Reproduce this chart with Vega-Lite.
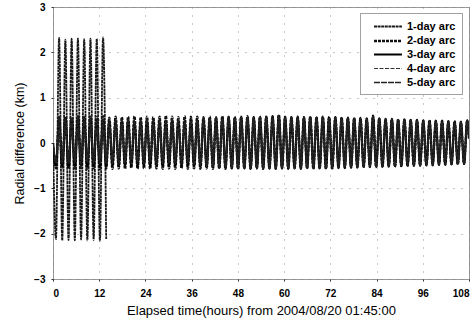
{
"$schema":"https://vega.github.io/schema/vega-lite/v6.json",
"autosize":"none",
"width":416,"height":272,
"padding":{"left":53,"top":7,"right":5,"bottom":48},
"background":"white",
"data":{"values":[
{"t":0,"1-day arc":0,"2-day arc":0,"3-day arc":0,"4-day arc":0,"5-day arc":0},
{"t":0.77,"1-day arc":-2.12,"2-day arc":-0.56,"3-day arc":-0.5,"4-day arc":-0.32,"5-day arc":-0.45},
{"t":1.58,"1-day arc":2.32,"2-day arc":0.57,"3-day arc":0.47,"4-day arc":0.3,"5-day arc":0.52},
{"t":2.4,"1-day arc":-2.15,"2-day arc":-0.55,"3-day arc":-0.49,"4-day arc":-0.34,"5-day arc":-0.44},
{"t":3.21,"1-day arc":2.28,"2-day arc":0.58,"3-day arc":0.48,"4-day arc":0.31,"5-day arc":0.51},
{"t":4.03,"1-day arc":-2.14,"2-day arc":-0.57,"3-day arc":-0.51,"4-day arc":-0.33,"5-day arc":-0.46},
{"t":4.84,"1-day arc":2.3,"2-day arc":0.56,"3-day arc":0.46,"4-day arc":0.29,"5-day arc":0.53},
{"t":5.66,"1-day arc":-2.15,"2-day arc":-0.56,"3-day arc":-0.5,"4-day arc":-0.35,"5-day arc":-0.45},
{"t":6.47,"1-day arc":2.31,"2-day arc":0.59,"3-day arc":0.49,"4-day arc":0.32,"5-day arc":0.52},
{"t":7.29,"1-day arc":-2.13,"2-day arc":-0.55,"3-day arc":-0.48,"4-day arc":-0.33,"5-day arc":-0.47},
{"t":8.1,"1-day arc":2.29,"2-day arc":0.57,"3-day arc":0.47,"4-day arc":0.3,"5-day arc":0.5},
{"t":8.92,"1-day arc":-2.15,"2-day arc":-0.57,"3-day arc":-0.5,"4-day arc":-0.34,"5-day arc":-0.44},
{"t":9.73,"1-day arc":2.3,"2-day arc":0.58,"3-day arc":0.48,"4-day arc":0.31,"5-day arc":0.53},
{"t":10.55,"1-day arc":-2.14,"2-day arc":-0.56,"3-day arc":-0.49,"4-day arc":-0.32,"5-day arc":-0.46},
{"t":11.36,"1-day arc":2.3,"2-day arc":0.57,"3-day arc":0.46,"4-day arc":0.3,"5-day arc":0.51},
{"t":12.18,"1-day arc":-2.16,"2-day arc":-0.58,"3-day arc":-0.51,"4-day arc":-0.35,"5-day arc":-0.45},
{"t":12.99,"1-day arc":2.33,"2-day arc":0.59,"3-day arc":0.48,"4-day arc":0.32,"5-day arc":0.52},
{"t":13.81,"1-day arc":-2.12,"2-day arc":-0.56,"3-day arc":-0.5,"4-day arc":-0.33,"5-day arc":-0.46},
{"t":14.62,"2-day arc":0.56,"3-day arc":0.47,"4-day arc":0.31,"5-day arc":0.5},
{"t":15.44,"2-day arc":-0.57,"3-day arc":-0.49,"4-day arc":-0.34,"5-day arc":-0.45},
{"t":16.25,"2-day arc":0.58,"3-day arc":0.48,"4-day arc":0.3,"5-day arc":0.52},
{"t":17.07,"2-day arc":-0.56,"3-day arc":-0.5,"4-day arc":-0.33,"5-day arc":-0.47},
{"t":17.88,"2-day arc":0.57,"3-day arc":0.46,"4-day arc":0.32,"5-day arc":0.51},
{"t":18.7,"2-day arc":-0.57,"3-day arc":-0.49,"4-day arc":-0.34,"5-day arc":-0.44},
{"t":19.51,"2-day arc":0.58,"3-day arc":0.49,"4-day arc":0.31,"5-day arc":0.53},
{"t":20.33,"2-day arc":-0.55,"3-day arc":-0.5,"4-day arc":-0.32,"5-day arc":-0.46},
{"t":21.14,"2-day arc":0.59,"3-day arc":0.47,"4-day arc":0.3,"5-day arc":0.52},
{"t":21.96,"2-day arc":-0.57,"3-day arc":-0.51,"4-day arc":-0.35,"5-day arc":-0.45},
{"t":22.77,"2-day arc":0.57,"3-day arc":0.48,"4-day arc":0.31,"5-day arc":0.5},
{"t":23.59,"2-day arc":-0.56,"3-day arc":-0.49,"4-day arc":-0.33,"5-day arc":-0.46},
{"t":24.4,"2-day arc":0.58,"3-day arc":0.47,"4-day arc":0.32,"5-day arc":0.53},
{"t":25.22,"2-day arc":-0.57,"3-day arc":-0.5,"4-day arc":-0.34,"5-day arc":-0.44},
{"t":26.03,"2-day arc":0.57,"3-day arc":0.48,"4-day arc":0.3,"5-day arc":0.51},
{"t":26.85,"2-day arc":-0.56,"3-day arc":-0.49,"4-day arc":-0.33,"5-day arc":-0.47},
{"t":27.66,"2-day arc":0.58,"3-day arc":0.46,"4-day arc":0.31,"5-day arc":0.52},
{"t":28.48,"2-day arc":-0.57,"3-day arc":-0.51,"4-day arc":-0.35,"5-day arc":-0.45},
{"t":29.29,"2-day arc":0.6,"3-day arc":0.48,"4-day arc":0.32,"5-day arc":0.5},
{"t":30.11,"2-day arc":-0.56,"3-day arc":-0.5,"4-day arc":-0.33,"5-day arc":-0.46},
{"t":30.92,"2-day arc":0.58,"3-day arc":0.47,"4-day arc":0.3,"5-day arc":0.53},
{"t":31.74,"2-day arc":-0.57,"3-day arc":-0.49,"4-day arc":-0.34,"5-day arc":-0.45},
{"t":32.55,"2-day arc":0.57,"3-day arc":0.48,"4-day arc":0.31,"5-day arc":0.51},
{"t":33.37,"2-day arc":-0.56,"3-day arc":-0.5,"4-day arc":-0.32,"5-day arc":-0.46},
{"t":34.18,"2-day arc":0.59,"3-day arc":0.47,"4-day arc":0.32,"5-day arc":0.52},
{"t":35.0,"2-day arc":-0.57,"3-day arc":-0.49,"4-day arc":-0.34,"5-day arc":-0.44},
{"t":35.81,"2-day arc":0.58,"3-day arc":0.48,"4-day arc":0.31,"5-day arc":0.5},
{"t":36.63,"2-day arc":-0.56,"3-day arc":-0.5,"4-day arc":-0.33,"5-day arc":-0.47},
{"t":37.44,"2-day arc":0.58,"3-day arc":0.5,"4-day arc":0.45,"5-day arc":0.53},
{"t":38.26,"2-day arc":-0.57,"3-day arc":-0.52,"4-day arc":-0.48,"5-day arc":-0.5},
{"t":39.07,"2-day arc":0.57,"3-day arc":0.53,"4-day arc":0.5,"5-day arc":0.55},
{"t":39.89,"2-day arc":-0.56,"3-day arc":-0.53,"4-day arc":-0.5,"5-day arc":-0.52},
{"t":40.7,"2-day arc":0.58,"3-day arc":0.54,"4-day arc":0.52,"5-day arc":0.55},
{"t":41.52,"2-day arc":-0.57,"3-day arc":-0.54,"4-day arc":-0.52,"5-day arc":-0.53},
{"t":42.33,"2-day arc":0.57,"3-day arc":0.55,"4-day arc":0.53,"5-day arc":0.56},
{"t":43.15,"2-day arc":-0.56,"3-day arc":-0.55,"4-day arc":-0.53,"5-day arc":-0.54},
{"t":43.96,"2-day arc":0.59,"3-day arc":0.56,"4-day arc":0.54,"5-day arc":0.57},
{"t":44.78,"2-day arc":-0.57,"3-day arc":-0.55,"4-day arc":-0.54,"5-day arc":-0.55},
{"t":45.59,"2-day arc":0.58,"3-day arc":0.56,"4-day arc":0.55,"5-day arc":0.57},
{"t":46.41,"2-day arc":-0.56,"3-day arc":-0.55,"4-day arc":-0.54,"5-day arc":-0.55},
{"t":47.22,"2-day arc":0.57,"3-day arc":0.56,"4-day arc":0.55,"5-day arc":0.56},
{"t":48.04,"2-day arc":-0.57,"3-day arc":-0.56,"4-day arc":-0.55,"5-day arc":-0.56},
{"t":48.85,"2-day arc":0.58,"3-day arc":0.57,"4-day arc":0.56,"5-day arc":0.57},
{"t":49.67,"2-day arc":-0.56,"3-day arc":-0.56,"4-day arc":-0.55,"5-day arc":-0.55},
{"t":50.48,"2-day arc":0.59,"3-day arc":0.57,"4-day arc":0.56,"5-day arc":0.58},
{"t":51.3,"2-day arc":-0.57,"3-day arc":-0.56,"4-day arc":-0.55,"5-day arc":-0.56},
{"t":52.11,"2-day arc":0.57,"3-day arc":0.56,"4-day arc":0.55,"5-day arc":0.57},
{"t":52.93,"2-day arc":-0.56,"3-day arc":-0.55,"4-day arc":-0.55,"5-day arc":-0.56},
{"t":53.74,"2-day arc":0.58,"3-day arc":0.57,"4-day arc":0.56,"5-day arc":0.57},
{"t":54.56,"2-day arc":-0.57,"3-day arc":-0.56,"4-day arc":-0.55,"5-day arc":-0.55},
{"t":55.37,"2-day arc":0.58,"3-day arc":0.57,"4-day arc":0.56,"5-day arc":0.58},
{"t":56.19,"2-day arc":-0.56,"3-day arc":-0.56,"4-day arc":-0.55,"5-day arc":-0.56},
{"t":57.0,"2-day arc":0.59,"3-day arc":0.58,"4-day arc":0.57,"5-day arc":0.58},
{"t":57.82,"2-day arc":-0.57,"3-day arc":-0.56,"4-day arc":-0.56,"5-day arc":-0.55},
{"t":58.63,"2-day arc":0.62,"3-day arc":0.6,"4-day arc":0.59,"5-day arc":0.61},
{"t":59.45,"2-day arc":-0.56,"3-day arc":-0.56,"4-day arc":-0.55,"5-day arc":-0.56},
{"t":60.26,"2-day arc":0.58,"3-day arc":0.57,"4-day arc":0.56,"5-day arc":0.57},
{"t":61.08,"2-day arc":-0.57,"3-day arc":-0.56,"4-day arc":-0.55,"5-day arc":-0.55},
{"t":61.89,"2-day arc":0.57,"3-day arc":0.56,"4-day arc":0.55,"5-day arc":0.57},
{"t":62.71,"2-day arc":-0.56,"3-day arc":-0.55,"4-day arc":-0.55,"5-day arc":-0.56},
{"t":63.52,"2-day arc":0.58,"3-day arc":0.57,"4-day arc":0.56,"5-day arc":0.57},
{"t":64.34,"2-day arc":-0.57,"3-day arc":-0.56,"4-day arc":-0.55,"5-day arc":-0.55},
{"t":65.15,"2-day arc":0.57,"3-day arc":0.56,"4-day arc":0.56,"5-day arc":0.57},
{"t":65.97,"2-day arc":-0.56,"3-day arc":-0.55,"4-day arc":-0.55,"5-day arc":-0.56},
{"t":66.78,"2-day arc":0.58,"3-day arc":0.57,"4-day arc":0.56,"5-day arc":0.58},
{"t":67.6,"2-day arc":-0.57,"3-day arc":-0.56,"4-day arc":-0.55,"5-day arc":-0.55},
{"t":68.41,"2-day arc":0.57,"3-day arc":0.56,"4-day arc":0.55,"5-day arc":0.57},
{"t":69.23,"2-day arc":-0.56,"3-day arc":-0.56,"4-day arc":-0.55,"5-day arc":-0.56},
{"t":70.04,"2-day arc":0.58,"3-day arc":0.57,"4-day arc":0.56,"5-day arc":0.57},
{"t":70.86,"2-day arc":-0.57,"3-day arc":-0.56,"4-day arc":-0.55,"5-day arc":-0.55},
{"t":71.67,"2-day arc":0.57,"3-day arc":0.56,"4-day arc":0.55,"5-day arc":0.56},
{"t":72.49,"2-day arc":-0.56,"3-day arc":-0.55,"4-day arc":-0.54,"5-day arc":-0.55},
{"t":73.3,"2-day arc":0.57,"3-day arc":0.56,"4-day arc":0.55,"5-day arc":0.56},
{"t":74.12,"2-day arc":-0.55,"3-day arc":-0.54,"4-day arc":-0.54,"5-day arc":-0.55},
{"t":74.93,"2-day arc":0.56,"3-day arc":0.55,"4-day arc":0.54,"5-day arc":0.56},
{"t":75.75,"2-day arc":-0.55,"3-day arc":-0.54,"4-day arc":-0.53,"5-day arc":-0.54},
{"t":76.56,"2-day arc":0.56,"3-day arc":0.55,"4-day arc":0.54,"5-day arc":0.55},
{"t":77.38,"2-day arc":-0.54,"3-day arc":-0.54,"4-day arc":-0.53,"5-day arc":-0.54},
{"t":78.19,"2-day arc":0.55,"3-day arc":0.54,"4-day arc":0.53,"5-day arc":0.55},
{"t":79.01,"2-day arc":-0.54,"3-day arc":-0.53,"4-day arc":-0.53,"5-day arc":-0.54},
{"t":79.82,"2-day arc":0.55,"3-day arc":0.54,"4-day arc":0.53,"5-day arc":0.54},
{"t":80.64,"2-day arc":-0.53,"3-day arc":-0.53,"4-day arc":-0.52,"5-day arc":-0.53},
{"t":81.45,"2-day arc":0.54,"3-day arc":0.53,"4-day arc":0.53,"5-day arc":0.54},
{"t":82.27,"2-day arc":-0.53,"3-day arc":-0.52,"4-day arc":-0.52,"5-day arc":-0.53},
{"t":83.08,"2-day arc":0.6,"3-day arc":0.57,"4-day arc":0.55,"5-day arc":0.58},
{"t":83.9,"2-day arc":-0.53,"3-day arc":-0.52,"4-day arc":-0.52,"5-day arc":-0.53},
{"t":84.71,"2-day arc":0.54,"3-day arc":0.53,"4-day arc":0.52,"5-day arc":0.53},
{"t":85.53,"2-day arc":-0.52,"3-day arc":-0.52,"4-day arc":-0.51,"5-day arc":-0.52},
{"t":86.34,"2-day arc":0.53,"3-day arc":0.52,"4-day arc":0.52,"5-day arc":0.53},
{"t":87.16,"2-day arc":-0.52,"3-day arc":-0.51,"4-day arc":-0.51,"5-day arc":-0.52},
{"t":87.97,"2-day arc":0.53,"3-day arc":0.52,"4-day arc":0.51,"5-day arc":0.53},
{"t":88.79,"2-day arc":-0.52,"3-day arc":-0.51,"4-day arc":-0.5,"5-day arc":-0.51},
{"t":89.6,"2-day arc":0.52,"3-day arc":0.51,"4-day arc":0.51,"5-day arc":0.52},
{"t":90.42,"2-day arc":-0.51,"3-day arc":-0.51,"4-day arc":-0.5,"5-day arc":-0.51},
{"t":91.23,"2-day arc":0.52,"3-day arc":0.51,"4-day arc":0.5,"5-day arc":0.52},
{"t":92.05,"2-day arc":-0.51,"3-day arc":-0.5,"4-day arc":-0.5,"5-day arc":-0.51},
{"t":92.86,"2-day arc":0.51,"3-day arc":0.5,"4-day arc":0.5,"5-day arc":0.51},
{"t":93.68,"2-day arc":-0.5,"3-day arc":-0.5,"4-day arc":-0.49,"5-day arc":-0.5},
{"t":94.49,"2-day arc":0.51,"3-day arc":0.5,"4-day arc":0.49,"5-day arc":0.5},
{"t":95.31,"2-day arc":-0.5,"3-day arc":-0.49,"4-day arc":-0.49,"5-day arc":-0.5},
{"t":96.12,"2-day arc":0.5,"3-day arc":0.49,"4-day arc":0.49,"5-day arc":0.5},
{"t":96.94,"2-day arc":-0.49,"3-day arc":-0.49,"4-day arc":-0.48,"5-day arc":-0.49},
{"t":97.75,"2-day arc":0.5,"3-day arc":0.49,"4-day arc":0.48,"5-day arc":0.49},
{"t":98.57,"2-day arc":-0.49,"3-day arc":-0.48,"4-day arc":-0.48,"5-day arc":-0.49},
{"t":99.38,"2-day arc":0.49,"3-day arc":0.48,"4-day arc":0.48,"5-day arc":0.49},
{"t":100.2,"2-day arc":-0.48,"3-day arc":-0.48,"4-day arc":-0.47,"5-day arc":-0.48},
{"t":101.01,"2-day arc":0.49,"3-day arc":0.48,"4-day arc":0.47,"5-day arc":0.48},
{"t":101.83,"2-day arc":-0.48,"3-day arc":-0.47,"4-day arc":-0.47,"5-day arc":-0.48},
{"t":102.64,"2-day arc":0.48,"3-day arc":0.47,"4-day arc":0.47,"5-day arc":0.48},
{"t":103.46,"2-day arc":-0.47,"3-day arc":-0.47,"4-day arc":-0.46,"5-day arc":-0.47},
{"t":104.27,"2-day arc":0.48,"3-day arc":0.47,"4-day arc":0.46,"5-day arc":0.47},
{"t":105.09,"2-day arc":-0.47,"3-day arc":-0.46,"4-day arc":-0.46,"5-day arc":-0.47},
{"t":105.9,"2-day arc":0.47,"3-day arc":0.46,"4-day arc":0.46,"5-day arc":0.47},
{"t":106.72,"2-day arc":-0.46,"3-day arc":-0.46,"4-day arc":-0.45,"5-day arc":-0.46},
{"t":107.53,"2-day arc":0.5,"3-day arc":0.49,"4-day arc":0.48,"5-day arc":0.5},
{"t":108,"2-day arc":0.1,"3-day arc":0.1,"4-day arc":0.1,"5-day arc":0.1}
]},
"transform":[{"fold":["1-day arc","2-day arc","3-day arc","4-day arc","5-day arc"],"as":["arc","r"]}],
"mark":{"type":"line","interpolate":"monotone","clip":true},
"encoding":{
"x":{"field":"t","type":"quantitative","scale":{"domain":[0,108],"nice":false},"axis":{"values":[0,12,24,36,48,60,72,84,96,108],"title":"Elapsed time(hours) from 2004/08/20 01:45:00"}},
"y":{"field":"r","type":"quantitative","scale":{"domain":[-3,3],"nice":false},"axis":{"values":[-3,-2,-1,0,1,2,3],"title":"Radial difference (km)"}},
"color":{"field":"arc","type":"nominal","scale":{"domain":["1-day arc","2-day arc","3-day arc","4-day arc","5-day arc"],"range":["#1a1a1a","#111111","#000000","#333333","#222222"]},"legend":{"title":null}},
"strokeDash":{"field":"arc","type":"nominal","scale":{"domain":["1-day arc","2-day arc","3-day arc","4-day arc","5-day arc"],"range":[[3,0.6],[3,1],[1,0],[4,1.5],[6,1]]},"legend":{"title":null}},
"strokeWidth":{"field":"arc","type":"nominal","scale":{"type":"ordinal","domain":["1-day arc","2-day arc","3-day arc","4-day arc","5-day arc"],"range":[1.8,2.4,2.0,1.2,1.6]},"legend":{"title":null}}
},
"config":{
"view":{"stroke":"#333333","strokeDash":[1,1],"strokeWidth":1},
"axis":{"domain":false,"grid":true,"gridDash":[1,7],"gridColor":"#777777","gridOpacity":0.8,"tickSize":2,"tickColor":"#333333",
"labelFont":"Liberation Sans","labelFontWeight":"bold","labelFontSize":10,"labelColor":"#000000",
"titleFont":"Liberation Sans","titleFontWeight":"normal","titleColor":"#000000"},
"axisX":{"labelPadding":7,"titlePadding":6,"titleFontSize":13},
"axisY":{"labelPadding":6,"titlePadding":7,"titleFontSize":12.5},
"legend":{"orient":"none","legendX":307,"legendY":6,"padding":6,"strokeColor":"#444444","strokeDash":[1,1],"fillColor":"white",
"symbolType":"M0,0L4.3,0","symbolSize":169,"labelFont":"Liberation Sans","labelFontWeight":"bold","labelFontSize":11,"labelColor":"#000000","rowPadding":1,"labelOffset":25}
}
}
